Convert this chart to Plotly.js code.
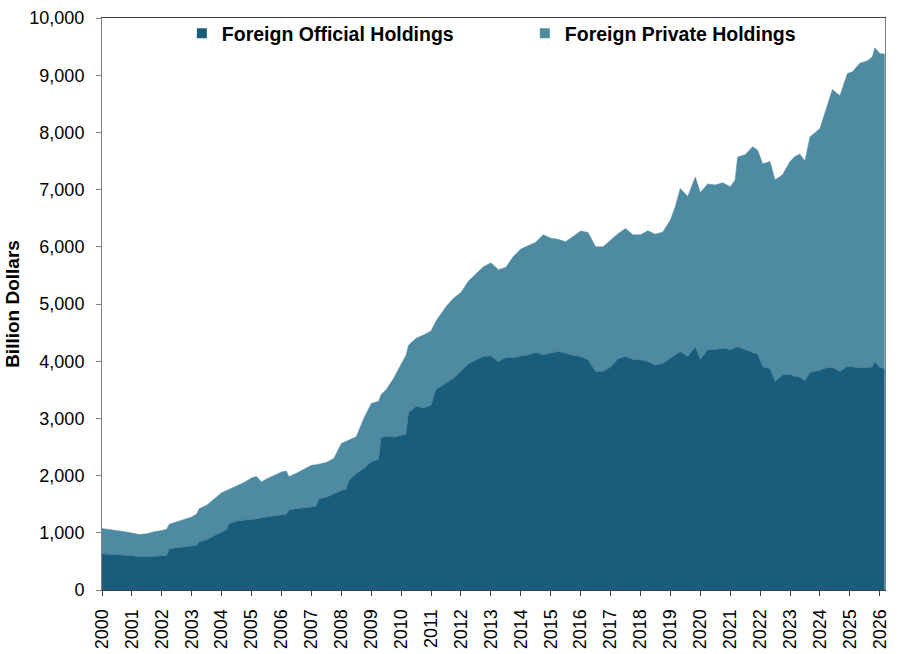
<!DOCTYPE html>
<html>
<head>
<meta charset="utf-8">
<script src="https://cdn.plot.ly/plotly-3.0.1.min.js"></script>
<style>
  html, body { margin: 0; padding: 0; background: #ffffff; }
  #chart { width: 900px; height: 654px; }
</style>
</head>
<body>
<div id="chart"></div>
<script>
// month of each reading
var months = [
  '2000-01', '2000-04', '2000-07', '2000-10', '2001-01', '2001-04', '2001-07', '2001-10',
  '2002-01', '2002-03', '2002-04', '2002-07', '2002-10', '2003-01', '2003-03', '2003-04',
  '2003-07', '2003-10', '2004-01', '2004-03', '2004-04', '2004-07', '2004-10', '2005-01',
  '2005-03', '2005-05', '2005-07', '2005-10', '2006-01', '2006-03', '2006-04', '2006-07',
  '2006-10', '2007-01', '2007-03', '2007-04', '2007-07', '2007-10', '2008-01', '2008-03',
  '2008-04', '2008-07', '2008-10', '2009-01', '2009-04', '2009-05', '2009-07', '2009-10',
  '2010-01', '2010-03', '2010-04', '2010-07', '2010-10', '2011-01', '2011-03', '2011-07',
  '2011-10', '2012-01', '2012-04', '2012-07', '2012-10', '2013-01', '2013-04', '2013-07',
  '2013-10', '2014-01', '2014-04', '2014-07', '2014-10', '2015-01', '2015-04', '2015-07',
  '2015-10', '2016-01', '2016-04', '2016-07', '2016-10', '2017-01', '2017-04', '2017-07',
  '2017-10', '2018-01', '2018-04', '2018-07', '2018-10', '2019-01', '2019-03', '2019-05',
  '2019-08', '2019-11', '2020-01', '2020-04', '2020-07', '2020-10', '2021-01', '2021-03',
  '2021-04', '2021-07', '2021-10', '2021-12', '2022-02', '2022-05', '2022-07', '2022-10',
  '2023-01', '2023-03', '2023-05', '2023-07', '2023-09', '2024-01', '2024-03', '2024-06',
  '2024-09', '2024-12', '2025-02', '2025-05', '2025-08', '2025-10', '2025-11', '2026-01',
  '2026-03'
];

// foreign official holdings, billion dollars
var official = [
  630, 625, 610, 605, 600, 575, 585, 595,
  600, 600, 720, 735, 750, 766, 780, 840,
  880, 950, 1010, 1050, 1160, 1200, 1220, 1230,
  1240, 1260, 1275, 1295, 1315, 1320, 1400, 1420,
  1440, 1450, 1460, 1590, 1620, 1680, 1740, 1760,
  1910, 2040, 2120, 2240, 2280, 2660, 2690, 2670,
  2700, 2720, 3100, 3210, 3180, 3230, 3500, 3620,
  3700, 3830, 3950, 4020, 4080, 4090, 3990, 4060,
  4060, 4090, 4110, 4150, 4110, 4140, 4170, 4140,
  4100, 4080, 4020, 3820, 3820, 3900, 4040, 4080,
  4030, 4020, 3990, 3930, 3960, 4050, 4110, 4170,
  4080, 4250, 4030, 4200, 4200, 4225, 4200, 4230,
  4250, 4200, 4150, 4120, 3900, 3870, 3640, 3760,
  3770, 3730, 3720, 3660, 3800, 3840, 3876, 3890,
  3820, 3910, 3900, 3880, 3890, 3900, 3990, 3890,
  3870
];

// foreign private holdings, billion dollars (stacked on official)
var privateHold = [
  445, 435, 430, 415, 395, 395, 400, 425,
  440, 460, 430, 455, 480, 509, 550, 580,
  600, 640, 690, 690, 600, 610, 660, 730,
  745, 630, 665, 705, 750, 760, 580, 620,
  670, 730, 730, 610, 610, 620, 820, 840,
  710, 640, 880, 1020, 1020, 760, 810, 1030,
  1250, 1380, 1180, 1190, 1280, 1300, 1200, 1330,
  1400, 1370, 1450, 1500, 1570, 1630, 1610, 1580,
  1770, 1870, 1910, 1930, 2100, 2010, 1960, 1950,
  2080, 2195, 2230, 2180, 2180, 2210, 2190, 2240,
  2180, 2190, 2290, 2290, 2300, 2420, 2590, 2850,
  2800, 2970, 2920, 2900, 2880, 2895, 2850, 2940,
  3320, 3410, 3600, 3570, 3550, 3620, 3530, 3500,
  3720, 3850, 3900, 3840, 4120, 4230, 4454, 4860,
  4820, 5120, 5160, 5330, 5360, 5420, 5490, 5490,
  5500
];

var yearTicks = [];
var yearLabels = [];
for (var yr = 2000; yr <= 2026; yr++) {
  yearTicks.push(yr + '-01-01');
  yearLabels.push(String(yr));
}

var dark = '#1a5c7b';
var light = '#4f8aa3';
var fontFamily = 'Liberation Sans, Arial, sans-serif';

var officialTrace = {
  x: months,
  y: official,
  type: 'scatter',
  mode: 'lines',
  stackgroup: 'holdings',
  name: 'Foreign Official Holdings',
  line: { color: dark, width: 0.5 },
  fillcolor: dark,
  showlegend: false,
  hoverinfo: 'x+y'
};

var privateTrace = {
  x: months,
  y: privateHold,
  type: 'scatter',
  mode: 'lines',
  stackgroup: 'holdings',
  name: 'Foreign Private Holdings',
  line: { color: light, width: 0.5 },
  fillcolor: light,
  showlegend: false,
  hoverinfo: 'x+y'
};

// square legend keys, one legend box each so they sit side by side
var officialKey = {
  x: [null], y: [null], type: 'scatter', mode: 'markers',
  name: 'Foreign Official Holdings',
  legend: 'legend',
  marker: { symbol: 'square', size: 10, color: dark }
};
var privateKey = {
  x: [null], y: [null], type: 'scatter', mode: 'markers',
  name: 'Foreign Private Holdings',
  legend: 'legend2',
  marker: { symbol: 'square', size: 10, color: light }
};

var data = [officialTrace, privateTrace, officialKey, privateKey];

var legendFont = { family: fontFamily, size: 19.5, weight: 'bold', color: '#000000' };

var layout = {
  width: 900,
  height: 654,
  margin: { l: 102, r: 15, t: 18, b: 64 },
  paper_bgcolor: '#ffffff',
  plot_bgcolor: '#ffffff',
  font: { family: fontFamily, size: 18, color: '#000000' },
  showlegend: true,
  legend: {
    x: 0.102, y: 1.007, xanchor: 'left', yanchor: 'top',
    itemwidth: 30, bgcolor: 'rgba(0,0,0,0)', font: legendFont
  },
  legend2: {
    x: 0.54, y: 1.007, xanchor: 'left', yanchor: 'top',
    itemwidth: 30, bgcolor: 'rgba(0,0,0,0)', font: legendFont
  },
  xaxis: {
    type: 'date',
    range: ['2000-01-01', '2026-03-05'],
    tickmode: 'array',
    tickvals: yearTicks,
    ticktext: yearLabels,
    tickangle: -90,
    ticks: 'outside',
    ticklen: 5,
    tickcolor: '#404040',
    ticklabelstandoff: 6,
    showgrid: false,
    zeroline: false,
    showline: true,
    linecolor: '#404040',
    linewidth: 1,
    mirror: true,
    tickfont: { family: fontFamily, size: 18, color: '#000000' }
  },
  yaxis: {
    range: [0, 10000],
    dtick: 1000,
    tickformat: ',d',
    ticks: 'outside',
    ticklen: 5,
    tickcolor: '#808080',
    ticklabelstandoff: 8,
    showgrid: false,
    zeroline: false,
    showline: true,
    linecolor: '#808080',
    linewidth: 1,
    mirror: true,
    tickfont: { family: fontFamily, size: 18, color: '#000000' },
    title: {
      text: 'Billion Dollars',
      standoff: 4,
      font: { family: fontFamily, size: 19, weight: 'bold', color: '#000000' }
    }
  }
};

Plotly.newPlot('chart', data, layout, { displayModeBar: false, responsive: false });
</script>
</body>
</html>
